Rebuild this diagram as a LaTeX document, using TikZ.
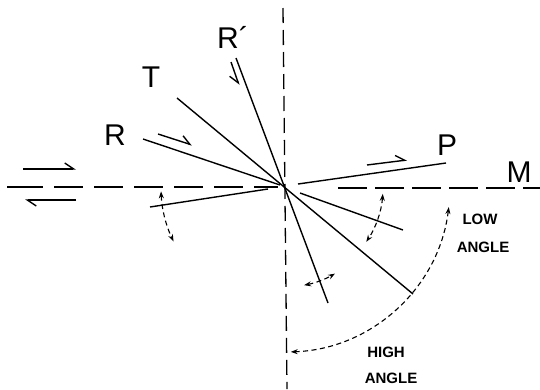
\documentclass[tikz,border=0pt]{standalone}
\usepackage{fontspec}
\setmainfont{Liberation Sans}
\usetikzlibrary{arrows.meta}
\begin{document}
\begin{tikzpicture}[x=1pt,y=-1pt,
 solidline/.style={line width=1.4pt},
 mdash/.style={line width=2.6pt, dash pattern=on 29pt off 11pt},
 mdashr/.style={line width=2.6pt, dash pattern=on 29pt off 8pt},
 vdash/.style={line width=1.3pt, dash pattern=on 15pt off 7pt},
 rotarrow/.style={line width=1.1pt, dash pattern=on 5pt off 3.5pt, {Stealth[length=7pt,width=5pt]}-{Stealth[length=7pt,width=5pt]}},
 harpoonL/.style={line width=1.4pt, -{Straight Barb[left,length=9pt,width=12pt]}},
 harpoonR/.style={line width=1.4pt, -{Straight Barb[right,length=9pt,width=12pt]}},
 biglabel/.style={font=\fontsize{30}{30}\selectfont, inner sep=0pt, anchor=base},
 anglelabel/.style={font=\bfseries\fontsize{15}{15}\selectfont, inner sep=0pt}]
\fill[white] (0,0) rectangle (540,389);
\useasboundingbox (0,0) rectangle (540,389);
% centre
\coordinate (O) at (285,187);
% reference lines
\coordinate (Mleft) at (7,187);
\coordinate (Mleftb) at (14,187);
\coordinate (Mlefte) at (278,187);
\coordinate (Mrights) at (338,188);
\coordinate (Mright) at (540,188);
\coordinate (Vtop) at (283,8);
\coordinate (Vbot) at (287,389);
\draw[line width=2.6pt] (Mleft) -- (Mleftb);
\draw[mdash] (Mleftb) -- (Mlefte);
\draw[mdashr] (Mrights) -- (Mright);
\draw[vdash] (Vtop) -- (Vbot);
% fault lines
\coordinate (Ra) at (143,139);
\coordinate (Rb) at (280,185);
\coordinate (Rc) at (300,193);
\coordinate (Rd) at (403,230);
\coordinate (Pa) at (150,207);
\coordinate (Pb) at (268,189);
\coordinate (Pc) at (298,184);
\coordinate (Pd) at (446,163);
\coordinate (Ta) at (177,98);
\coordinate (Tb) at (413,294);
\coordinate (Qa) at (236,58);
\coordinate (Qb) at (328,303);
\draw[solidline] (Ra) -- (Rb);
\draw[solidline] (Rc) -- (Rd);
\draw[solidline] (Pa) -- (Pb);
\draw[solidline] (Pc) -- (Pd);
\draw[solidline] (Ta) -- (Tb);
\draw[solidline] (Qa) -- (Qb);
% slip harpoons
\coordinate (h1a) at (23,169); \coordinate (h1b) at (76,169);
\coordinate (h2a) at (76,200); \coordinate (h2b) at (25,200);
\coordinate (h3a) at (158,134); \coordinate (h3b) at (192,145);
\coordinate (h4a) at (367,165); \coordinate (h4b) at (407,160);
\coordinate (h5a) at (231,62); \coordinate (h5b) at (239,85);
\draw[harpoonL] (h1a) -- (h1b);
\draw[harpoonL] (h2a) -- (h2b);
\draw[harpoonL] (h3a) -- (h3b);
\draw[harpoonL] (h4a) -- (h4b);
\draw[harpoonR] (h5a) -- (h5b);
% rotation arrows
\draw[rotarrow] (O) ++(178:124) arc[start angle=178, end angle=154, radius=124];
\draw[rotarrow] (O) ++(4:98) arc[start angle=4, end angle=34, radius=98];
\draw[rotarrow] (O) ++(79:100) arc[start angle=79, end angle=60, radius=100];
\draw[rotarrow] (O) ++(7:165) arc[start angle=7, end angle=88, radius=165];
% labels
\node[biglabel] (lR) at (115,145) {R};
\node[biglabel] (lT) at (151,87) {T};
\node[biglabel] (lRp) at (233,48) {R´};
\node[biglabel] (lP) at (447,155) {P};
\node[biglabel] (lM) at (519,182) {M};
\node[anglelabel] (lLow) at (480,219) {LOW};
\node[anglelabel] (lLowA) at (483,247) {ANGLE};
\node[anglelabel] (lHigh) at (386,352) {HIGH};
\node[anglelabel] (lHighA) at (391,378) {ANGLE};
\end{tikzpicture}
\end{document}
